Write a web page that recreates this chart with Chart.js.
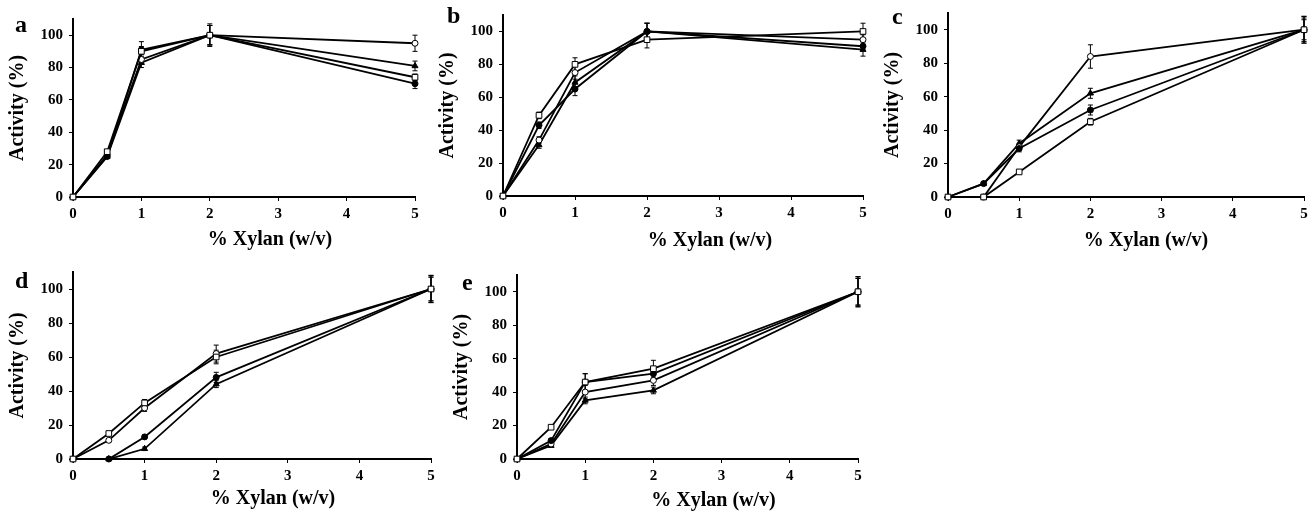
<!DOCTYPE html>
<html><head><meta charset="utf-8">
<script src="https://cdn.jsdelivr.net/npm/chart.js@4/dist/chart.umd.min.js"></script>
<style>
html,body{margin:0;padding:0;background:#fff;width:1312px;height:514px;overflow:hidden;position:relative}
canvas{position:absolute}
.lbl{position:absolute;font-family:"Liberation Serif","Times New Roman",serif;font-weight:bold;font-size:24px;line-height:1;color:#000}
</style></head><body>
<script>
// ---------- data ----------
const xValues = [0, 0.5, 1, 2, 5];
const yTickValues = [0, 20, 40, 60, 80, 100];
const panelLetters = ['a', 'b', 'c', 'd', 'e'];
const xTitle = '% Xylan (w/v)';
const yTitle = 'Activity (%)';

// panel a
const aOpenSquare     = [0, 28, 90, 100, 74];
const aFilledCircle   = [0, 25, 91, 100, 70];
const aOpenCircle     = [0, 26, 85, 100, 95];
const aFilledTriangle = [0, 25, 83, 100, 81];
const aOpenSquareErr     = [0, 1, 3, 6, 2];
const aFilledCircleErr   = [0, 1, 5, 7, 3];
const aOpenCircleErr     = [0, 1, 3, 6, 5];
const aFilledTriangleErr = [0, 1, 3, 6, 3];

// panel b
const bOpenSquare     = [0, 49, 80, 95, 100];
const bFilledCircle   = [0, 43, 65, 100, 91];
const bOpenCircle     = [0, 34, 75, 100, 95];
const bFilledTriangle = [0, 31, 69, 100, 89];
const bOpenSquareErr     = [0, 2, 4, 5, 5];
const bFilledCircleErr   = [0, 2, 4, 5, 3];
const bOpenCircleErr     = [0, 2, 4, 5, 3];
const bFilledTriangleErr = [0, 2, 4, 5, 4];

// panel c
const cOpenSquare     = [0, 0, 15, 45, 100];
const cFilledCircle   = [0, 8, 29, 52, 100];
const cOpenCircle     = [0, 0, 30, 84, 100];
const cFilledTriangle = [0, 8, 32, 62, 100];
const cOpenSquareErr     = [0, 0, 1, 2, 6];
const cFilledCircleErr   = [0, 1, 2, 3, 7];
const cOpenCircleErr     = [0, 0, 2, 7, 8];
const cFilledTriangleErr = [0, 1, 2, 3, 8];

// panel d
const dOpenSquare     = [0, 15, 33, 60, 100];
const dFilledCircle   = [0, 0, 13, 48, 100];
const dOpenCircle     = [0, 11, 30, 62, 100];
const dFilledTriangle = [0, 0, 6, 44, 100];
const dOpenSquareErr     = [0, 1, 2, 4, 8];
const dFilledCircleErr   = [0, 0, 1, 3, 7];
const dOpenCircleErr     = [0, 1, 2, 5, 8];
const dFilledTriangleErr = [0, 0, 1, 2, 7];

// panel e
const eOpenSquare     = [0, 19, 46, 54, 100];
const eFilledCircle   = [0, 11, 46, 51, 100];
const eOpenCircle     = [0, 9, 40, 47, 100];
const eFilledTriangle = [0, 8, 35, 41, 100];
const eOpenSquareErr     = [0, 1, 5, 5, 9];
const eFilledCircleErr   = [0, 1, 5, 3, 8];
const eOpenCircleErr     = [0, 1, 4, 3, 8];
const eFilledTriangleErr = [0, 1, 2, 2, 9];

const panelSeries = [
  [aOpenSquare, aFilledCircle, aOpenCircle, aFilledTriangle],
  [bOpenSquare, bFilledCircle, bOpenCircle, bFilledTriangle],
  [cOpenSquare, cFilledCircle, cOpenCircle, cFilledTriangle],
  [dOpenSquare, dFilledCircle, dOpenCircle, dFilledTriangle],
  [eOpenSquare, eFilledCircle, eOpenCircle, eFilledTriangle]
];
const panelErrors = [
  [aOpenSquareErr, aFilledCircleErr, aOpenCircleErr, aFilledTriangleErr],
  [bOpenSquareErr, bFilledCircleErr, bOpenCircleErr, bFilledTriangleErr],
  [cOpenSquareErr, cFilledCircleErr, cOpenCircleErr, cFilledTriangleErr],
  [dOpenSquareErr, dFilledCircleErr, dOpenCircleErr, dFilledTriangleErr],
  [eOpenSquareErr, eFilledCircleErr, eOpenCircleErr, eFilledTriangleErr]
];

// ---------- layout (pixel geometry of each panel) ----------
const panelLayout = [
  {axisX: 73,  right: 415,  top: 18,    bottom: 197,   titleD: 43, titleShift: 26, letter: [15, 11.5]},
  {axisX: 503, right: 863,  top: 13.7,  bottom: 196,   titleD: 45, titleShift: 27, letter: [447, 2.5]},
  {axisX: 948, right: 1304, top: 11.5,  bottom: 196.7, titleD: 44, titleShift: 20, letter: [892, 3.5]},
  {axisX: 73,  right: 431,  top: 271.2, bottom: 459,   titleD: 40, titleShift: 21, letter: [15, 267.5]},
  {axisX: 517, right: 858,  top: 273.8, bottom: 459.3, titleD: 42, titleShift: 26, letter: [462, 270]}
];

const seriesStyles = [
  {pointStyle: 'rect',     pointRadius: 4,   fill: '#fff'},
  {pointStyle: 'circle',   pointRadius: 3,   fill: '#000'},
  {pointStyle: 'circle',   pointRadius: 3,   fill: '#fff'},
  {pointStyle: 'triangle', pointRadius: 3.5, fill: '#000'}
];

const FONT = '"Liberation Serif", "Times New Roman", serif';

const errorBarPlugin = {
  id: 'errorBars',
  beforeDatasetsDraw(chart) {
    const {ctx} = chart;
    const xs = chart.scales.x, ys = chart.scales.y;
    ctx.save();
    ctx.strokeStyle = '#000';
    ctx.lineWidth = 1;
    chart.data.datasets.forEach(ds => {
      ds.data.forEach((pt, i) => {
        const e = ds.errors[i];
        if (!e) return;
        const px = xs.getPixelForValue(pt.x);
        const t = ys.getPixelForValue(pt.y + e);
        const b = ys.getPixelForValue(pt.y - e);
        ctx.beginPath();
        ctx.moveTo(px, t); ctx.lineTo(px, b);
        ctx.moveTo(px - 2.5, t); ctx.lineTo(px + 2.5, t);
        ctx.moveTo(px - 2.5, b); ctx.lineTo(px + 2.5, b);
        ctx.stroke();
      });
    });
    ctx.restore();
  }
};

// x-axis title, drawn slightly right of the plot centre as in the original figure
const xTitlePlugin = {
  id: 'xTitle',
  afterDraw(chart, args, opts) {
    const {ctx, chartArea: ca} = chart;
    ctx.save();
    ctx.font = 'bold 20px ' + FONT;
    ctx.fillStyle = '#000';
    ctx.textAlign = 'center';
    ctx.textBaseline = 'middle';
    ctx.fillText(opts.text, (ca.left + ca.right) / 2 + opts.shift, ca.bottom + opts.dy);
    ctx.restore();
  }
};

panelLayout.forEach((L, p) => {
  const canvasLeft = L.axisX - 73;
  const canvasTop = L.top - 14;
  const canvasRight = Math.min(1312, L.right + 10);
  const hx = L.titleD + 12;
  const canvasBottom = L.bottom + hx;
  const cv = document.createElement('canvas');
  const W = Math.round(canvasRight - canvasLeft), H = Math.round(canvasBottom - canvasTop);
  cv.width = W; cv.height = H;
  cv.style.left = canvasLeft + 'px';
  cv.style.top = canvasTop + 'px';
  cv.style.width = W + 'px'; cv.style.height = H + 'px';
  document.body.appendChild(cv);

  const lbl = document.createElement('div');
  lbl.className = 'lbl';
  lbl.textContent = panelLetters[p];
  lbl.style.left = L.letter[0] + 'px';
  lbl.style.top = L.letter[1] + 'px';
  document.body.appendChild(lbl);

  const datasets = panelSeries[p].map((vals, s) => ({
    label: 'series ' + (s + 1),
    data: xValues.map((x, i) => ({x, y: vals[i]})),
    errors: panelErrors[p][s],
    borderColor: '#000',
    borderWidth: 1.8,
    backgroundColor: seriesStyles[s].fill,
    pointBackgroundColor: seriesStyles[s].fill,
    pointBorderColor: '#000',
    pointBorderWidth: 1,
    pointStyle: seriesStyles[s].pointStyle,
    pointRadius: seriesStyles[s].pointRadius,
    tension: 0,
    fill: false,
    clip: false
  }));

  const tickFont = {family: FONT, size: 15, weight: 'bold'};
  const titleFont = {family: FONT, size: 20, weight: 'bold'};

  new Chart(cv, {
    type: 'line',
    data: {datasets},
    plugins: [errorBarPlugin, xTitlePlugin],
    options: {
      responsive: false,
      animation: false,
      devicePixelRatio: 1,
      layout: {padding: {left: 0, top: 14, right: canvasRight - L.right, bottom: 0}},
      plugins: {
        legend: {display: false},
        tooltip: {enabled: false},
        xTitle: {text: xTitle, shift: L.titleShift, dy: L.titleD}
      },
      scales: {
        x: {
          type: 'linear', min: 0, max: 5,
          ticks: {stepSize: 1, color: '#000', font: tickFont, padding: 4, maxRotation: 0},
          grid: {drawOnChartArea: false, drawTicks: true, tickLength: 4, color: '#000', lineWidth: 1},
          border: {color: '#000', width: 2},
          title: {display: false},
          afterFit(s) { s.height = hx; }
        },
        y: {
          type: 'linear', min: 0, max: 110,
          afterBuildTicks(s) { s.ticks = yTickValues.map(v => ({value: v})); },
          ticks: {stepSize: 20, color: '#000', font: tickFont, padding: 6, autoSkip: false},
          grid: {drawOnChartArea: false, drawTicks: true, tickLength: 4, color: '#000', lineWidth: 1},
          border: {color: '#000', width: 2},
          title: {display: true, text: yTitle, color: '#000', font: titleFont, padding: {top: 6, bottom: 0}},
          afterFit(s) { s.width = 73; }
        }
      }
    }
  });
});
</script>
</body></html>
